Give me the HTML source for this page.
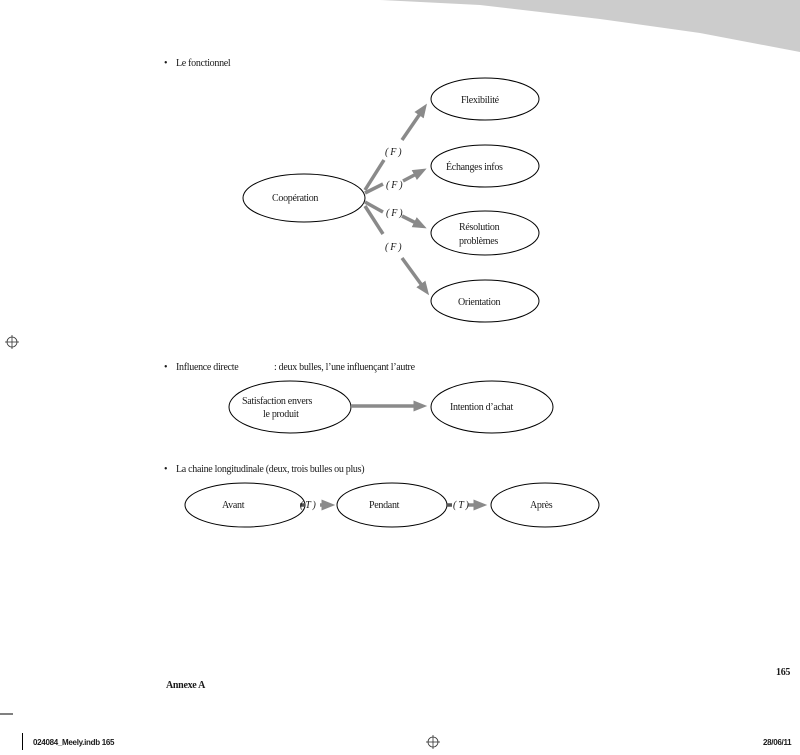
<!DOCTYPE html>
<html><head><meta charset="utf-8"><style>
html,body{margin:0;padding:0;background:#fff;}
svg{display:block;}
text{font-family:"Liberation Serif",serif;font-size:10px;fill:#1a1a1a;letter-spacing:-0.3px;}
.s{font-family:"Liberation Sans",sans-serif;font-size:8px;font-weight:bold;}
</style></head><body>
<svg width="800" height="755" viewBox="0 0 800 755" xmlns="http://www.w3.org/2000/svg">
<defs>
<marker id="a" markerWidth="4" markerHeight="4" refX="2.5" refY="2" orient="auto" markerUnits="strokeWidth">
<path d="M0,0.4 L4,2 L0,3.6 z" fill="#8a8a8a"/></marker>
</defs>
<path d="M380,0 L800,0 L800,52 L700,33 L600,19 L480,5 Z" fill="#cccccc"/>
<g stroke="#000" stroke-width="1" fill="none">
<ellipse cx="485" cy="99" rx="54" ry="21"/>
<ellipse cx="485" cy="166" rx="54" ry="21"/>
<ellipse cx="485" cy="233" rx="54" ry="22"/>
<ellipse cx="485" cy="301" rx="54" ry="21"/>
<ellipse cx="304" cy="198" rx="61" ry="24"/>
<ellipse cx="290" cy="407" rx="61" ry="26"/>
<ellipse cx="492" cy="407" rx="61" ry="26"/>
<ellipse cx="245" cy="505" rx="60" ry="22"/>
<ellipse cx="392" cy="505" rx="55" ry="22"/>
<ellipse cx="545" cy="505" rx="54" ry="22"/>
</g>
<g stroke="#8a8a8a" stroke-width="3.5" fill="none">
<line x1="365" y1="190" x2="384" y2="160"/>
<line x1="402" y1="140" x2="424" y2="108" marker-end="url(#a)"/>
<line x1="365" y1="193" x2="383" y2="184"/>
<line x1="403" y1="181" x2="422" y2="171" marker-end="url(#a)"/>
<line x1="365" y1="202" x2="383" y2="212"/>
<line x1="402" y1="216" x2="422" y2="226" marker-end="url(#a)"/>
<line x1="365" y1="206" x2="383" y2="234"/>
<line x1="402" y1="258" x2="426" y2="291" marker-end="url(#a)"/>
<line x1="351" y1="406" x2="422" y2="406" marker-end="url(#a)"/>
<line x1="305" y1="505" x2="300" y2="505" stroke="#555"/>
<line x1="320" y1="505" x2="330" y2="505" marker-end="url(#a)"/>
<line x1="447" y1="505" x2="452" y2="505" stroke="#555"/>
<line x1="468" y1="505" x2="482" y2="505" marker-end="url(#a)"/>
</g>
<text x="164" y="66">•</text>
<text x="176" y="66">Le fonctionnel</text>
<text x="461" y="103">Flexibilité</text>
<text x="446" y="170">Échanges infos</text>
<text x="459" y="230">Résolution</text>
<text x="459" y="244">problèmes</text>
<text x="458" y="305">Orientation</text>
<text x="272" y="201">Coopération</text>
<text x="385" y="155" font-style="italic">( F )</text>
<text x="386" y="188" font-style="italic">( F )</text>
<text x="386" y="216" font-style="italic">( F )</text>
<text x="385" y="250" font-style="italic">( F )</text>
<text x="164" y="370">•</text>
<text x="176" y="370">Influence directe</text>
<text x="274" y="370">: deux bulles, l’une influençant l’autre</text>
<text x="242" y="404">Satisfaction envers</text>
<text x="263" y="417">le produit</text>
<text x="450" y="410">Intention d’achat</text>
<text x="164" y="472">•</text>
<text x="176" y="472">La chaine longitudinale (deux, trois bulles ou plus)</text>
<text x="222" y="508">Avant</text>
<text x="369" y="508">Pendant</text>
<text x="530" y="508">Après</text>
<text x="300" y="508" font-style="italic">( T )</text>
<text x="453" y="508" font-style="italic">( T )</text>
<text x="776" y="675" font-weight="bold" font-size="13">165</text>
<text x="166" y="688" font-weight="bold" font-size="9">Annexe A</text>
<line x1="0" y1="714" x2="13" y2="714" stroke="#000" stroke-width="1"/>
<line x1="22.5" y1="733" x2="22.5" y2="750" stroke="#000" stroke-width="1"/>
<text class="s" x="33" y="745">024084_Meely.indb 165</text>
<text class="s" x="763" y="745">28/06/11</text>
<g stroke="#333" fill="none" stroke-width="0.8">
<circle cx="12" cy="342" r="5"/><line x1="12" y1="335" x2="12" y2="349"/><line x1="5" y1="342" x2="19" y2="342"/>
<circle cx="433" cy="742" r="5"/><line x1="433" y1="735" x2="433" y2="749"/><line x1="426" y1="742" x2="440" y2="742"/>
</g>
</svg>
</body></html>
